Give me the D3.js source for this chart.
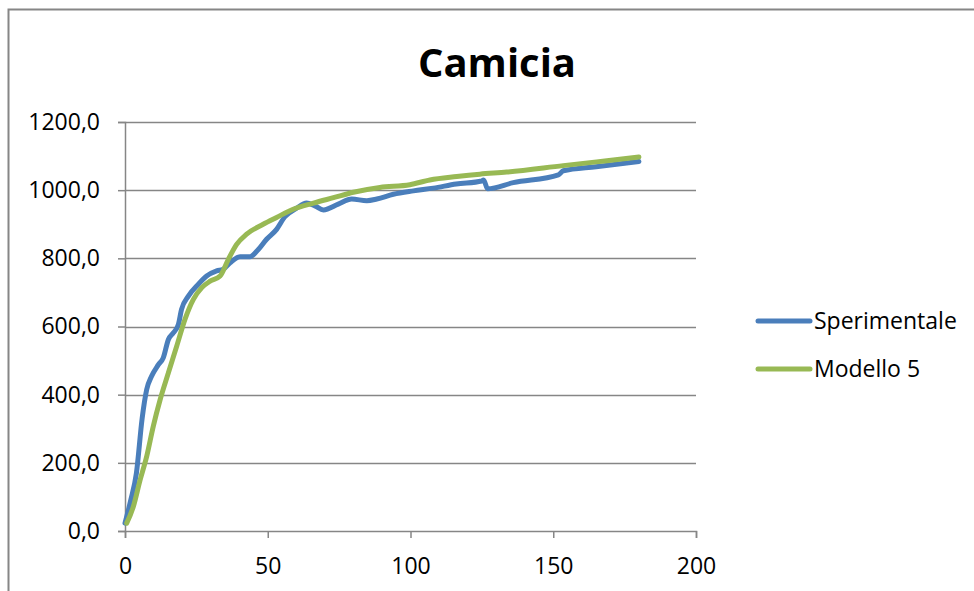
<!DOCTYPE html>
<html>
<head>
<meta charset="utf-8">
<script src="https://cdn.jsdelivr.net/npm/d3@7"></script>
<style>
  html, body { margin: 0; padding: 0; background: #fff; }
  svg { display: block; }
  text { font-family: "Open Sans", "Noto Sans", sans-serif; fill: #000; }
</style>
</head>
<body>
<svg id="chart" width="974" height="591"></svg>
<script>
const title = "Camicia";
const seriesNames = ["Sperimentale", "Modello 5"];
const seriesColors = ["#4a7ebb", "#98b954"];
const xTicks = [0, 50, 100, 150, 200];
const yTicks = [0, 200, 400, 600, 800, 1000, 1200];

const sperimentaleX = [0, 2, 4, 6, 7.6, 9.3, 11.7, 13.4, 15.2, 16.9, 18.7, 19.8, 22.2, 25.7, 28.6, 32.1, 34.4, 36.8, 40.3, 43.8, 46.7, 49.6, 53.1, 56, 60.1, 63.6, 66.5, 69.5, 74.7, 79.4, 84.7, 88.2, 94, 101, 108, 116, 125, 125.6, 127, 136, 151.8, 153.5, 165, 180];
const sperimentaleY = [23, 90, 170, 330, 415, 454, 488, 508, 562, 581, 606, 650, 689, 724, 748, 763, 768, 787, 805, 805, 826, 856, 885, 922, 947, 962, 954, 942, 959, 974, 969, 974, 988, 998, 1006, 1018, 1027, 1030, 1004, 1022, 1045, 1057, 1069, 1084];

const modelloX = [0.6, 2.9, 5.3, 7.6, 9.9, 12.3, 15.2, 18.1, 21, 23.9, 26.9, 29.8, 33.3, 36.2, 39.1, 42.6, 48.4, 53.1, 58.9, 66, 73, 80, 89.3, 99.8, 106.8, 116.2, 124.3, 133.7, 153.5, 165.2, 180];
const modelloY = [23, 71, 150, 219, 307, 385, 464, 542, 621, 679, 714, 733, 748, 797, 841, 871, 900, 920, 944, 962, 978, 994, 1008, 1016, 1030, 1040, 1047, 1053, 1072, 1083, 1097];

const series = [
  sperimentaleX.map((x, i) => [x, sperimentaleY[i]]),
  modelloX.map((x, i) => [x, modelloY[i]])
];

const svg = d3.select("#chart");
const gray = "#868686";

// outer chart border
svg.append("rect")
  .attr("x", 8.5).attr("y", 9.5)
  .attr("width", 990).attr("height", 620)
  .attr("fill", "none").attr("stroke", gray).attr("stroke-width", 2);

const x = d3.scaleLinear().domain([0, 200]).range([125, 696]);
const y = d3.scaleLinear().domain([0, 1200]).range([531, 122]);

// title
svg.append("text")
  .attr("x", 497).attr("y", 77)
  .attr("text-anchor", "middle")
  .style("font-size", "40px").style("font-weight", "bold")
  .text(title);

// gridlines
svg.append("g").selectAll("line").data(yTicks.filter(d => d > 0)).join("line")
  .attr("x1", x(0)).attr("x2", x(200))
  .attr("y1", d => Math.round(y(d)) + 0.5).attr("y2", d => Math.round(y(d)) + 0.5)
  .attr("stroke", gray).attr("stroke-width", 1.5);

// y axis
const yAxis = svg.append("g")
  .attr("transform", `translate(${x(0)},0)`)
  .call(d3.axisLeft(y).tickValues(yTicks).tickSize(7).tickPadding(18)
    .tickFormat(d => d3.format(".1f")(d).replace(".", ",")));
yAxis.select(".domain").attr("stroke", gray).attr("stroke-width", 1.5);
yAxis.selectAll(".tick line").attr("stroke", gray).attr("stroke-width", 1.5);
yAxis.selectAll(".tick text").style("font-size", "23px").style("font-family", "'Open Sans', sans-serif").attr("fill", "#000");

// x axis
const xAxis = svg.append("g")
  .attr("transform", `translate(0,${y(0)})`)
  .call(d3.axisBottom(x).tickValues(xTicks).tickSize(7).tickPadding(20));
xAxis.select(".domain").attr("stroke", gray).attr("stroke-width", 1.5);
xAxis.selectAll(".tick line").attr("stroke", gray).attr("stroke-width", 1.5);
xAxis.selectAll(".tick text").style("font-size", "23px").style("font-family", "'Open Sans', sans-serif").attr("fill", "#000");

// lines
const line = d3.line().x(d => x(d[0])).y(d => y(d[1])).curve(d3.curveMonotoneX);
svg.append("g").selectAll("path").data(series).join("path")
  .attr("d", line)
  .attr("fill", "none")
  .attr("stroke", (d, i) => seriesColors[i])
  .attr("stroke-width", 5)
  .attr("stroke-linecap", "round")
  .attr("stroke-linejoin", "round");

// legend
const legend = svg.append("g");
seriesNames.forEach((name, i) => {
  const ly = 321 + i * 48;
  legend.append("line")
    .attr("x1", 758).attr("x2", 810).attr("y1", ly).attr("y2", ly)
    .attr("stroke", seriesColors[i]).attr("stroke-width", 5).attr("stroke-linecap", "round");
  legend.append("text")
    .attr("x", 814).attr("y", ly + 8)
    .style("font-size", "23px")
    .text(name);
});
</script>
</body>
</html>
